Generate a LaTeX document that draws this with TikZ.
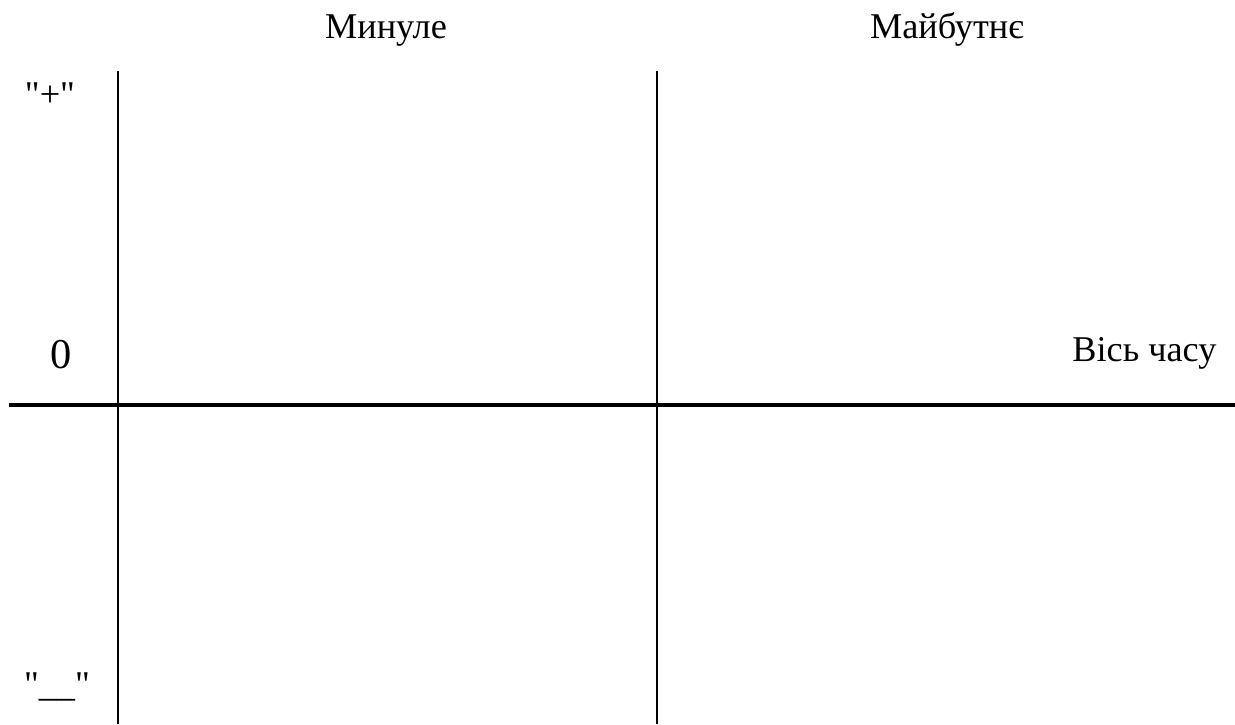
\documentclass[tikz,border=0pt]{standalone}
\usepackage{fontspec}
\setmainfont{Liberation Serif}
\usepackage{tikz}
\usetikzlibrary{positioning,calc}

\begin{document}
\begin{tikzpicture}[x=1cm,y=1cm,
 lbl/.style={inner sep=0pt,anchor=base,font=\fontsize{14.5}{17}\selectfont},
 divider/.style={line width=1pt},
 timeaxis/.style={line width=1.6pt}]
\useasboundingbox (0,0) rectangle (17.36,-10.18);
\coordinate (pastTop) at (1.659,-0.998);\coordinate (pastBot) at (1.659,-10.18);
\coordinate (nowTop) at (9.235,-0.998);\coordinate (nowBot) at (9.235,-10.18);
\coordinate (axisL) at (0.127,-5.693);\coordinate (axisR) at (17.36,-5.693);
\node[lbl] (past) at (5.426,-0.548) {Минуле};
\node[lbl] (future) at (13.311,-0.548) {Майбутнє};
\node[lbl] (plus) at (0.703,-1.490) {\textquotedbl+\textquotedbl};
\node[lbl,font=\fontsize{17}{20}\selectfont] (zero) at (0.857,-5.173) {0};
\node[lbl] (minus) at (0.801,-9.797) {\textquotedbl\_\_\textquotedbl};
\node[lbl,anchor=base east] (axisname) at (17.106,-5.088) {Вісь часу};
\draw[divider] (pastTop)--(pastBot);
\draw[divider] (nowTop)--(nowBot);
\draw[timeaxis] (axisL)--(axisR);
\end{tikzpicture}
\end{document}
